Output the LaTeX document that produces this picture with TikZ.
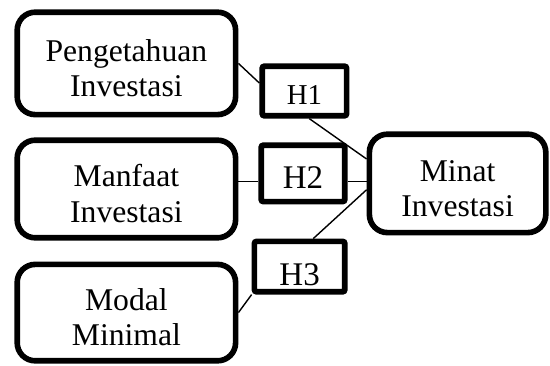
\documentclass[tikz,border=0pt]{standalone}
\usepackage{fontspec}
\setmainfont{Liberation Serif}
\newcommand{\lead}{\rule{0pt}{0.78cm}}

\begin{document}
\begin{tikzpicture}[
  varbox/.style={draw, line width=4pt, rounded corners=0.45cm, align=center,
    font=\fontsize{22.5}{25}\selectfont, inner sep=0pt},
  hypbox/.style={draw, line width=4pt, rounded corners=1.5pt, inner sep=0pt,
    text depth=0pt},
  link/.style={line width=1pt}]
\useasboundingbox (0,0) rectangle (13.75,9.125);
% independent variables
\node[varbox, minimum width=5.46cm, minimum height=2.56cm] (peng) at (3.16,7.54) {\lead Pengetahuan\\Investasi};
\node[varbox, minimum width=5.46cm, minimum height=2.44cm] (manf) at (3.16,4.40) {\lead Manfaat\\Investasi};
\node[varbox, minimum width=5.46cm, minimum height=2.41cm] (modal) at (3.16,1.31) {\lead Modal\\Minimal};
% dependent variable
\node[varbox, minimum width=4.41cm, minimum height=2.46cm] (minat) at (11.44,4.54) {\lead Minat\\Investasi};
% hypotheses
\node[hypbox, minimum width=2.11cm, minimum height=1.24cm, text height=0.7cm,
  font=\fontsize{20.5}{24}\selectfont] (h1) at (7.61,6.85) {H1};
\node[hypbox, minimum width=2.09cm, minimum height=1.41cm, text height=0.775cm,
  font=\fontsize{23.5}{27}\selectfont] (h2) at (7.575,4.79) {H2};
\node[hypbox, minimum width=2.26cm, minimum height=1.26cm, text height=0.925cm,
  font=\fontsize{23.5}{27}\selectfont] (h3) at (7.49,2.46) {H3};

\draw[link] (peng.east) -- (h1.170);
\draw[link] (h1.-80) -- (minat.165);
\draw[link] (h2.190 -| manf.east) -- (h2.190);
\draw[link] (h2.-10) -- (h2.-10 -| minat.west);
\draw[link] (modal.east) -- (h3.south west);
\draw[link] (h3.64) -- (minat.184);
\end{tikzpicture}
\end{document}
